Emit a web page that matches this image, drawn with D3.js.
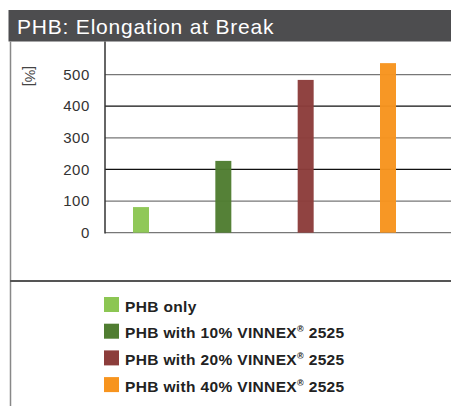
<!DOCTYPE html>
<html lang="en">

<head>
    <meta charset="UTF-8">
    <title>PHB: Elongation at Break</title>
    <script src="https://cdn.jsdelivr.net/npm/d3@7/dist/d3.min.js"></script>
    <style>
        body {
            margin: 0;
            background: #fff;
        }

        text {
            font-family: "Liberation Sans", Arial, Helvetica, sans-serif;
        }
    </style>
</head>

<body>
    <div id="container"></div>
</body>

</html>
<script>
    // data
    const categories = ['PHB only', 'PHB with 10% VINNEX', 'PHB with 20% VINNEX', 'PHB with 40% VINNEX']
    const regMark = ['', '®', '®', '®']
    const suffix = ['', ' 2525', ' 2525', ' 2525']
    const values = [81, 227, 483, 536]
    const colors = ['#8cc653', '#507d31', '#8c3d3b', '#f7941e']
    const yTicks = [0, 100, 200, 300, 400, 500]

    const width = 451,
        height = 406

    const svg = d3.select('#container').append('svg').attr('width', width).attr('height', height)

    // title bar
    svg.append('rect').attr('x', 8.5).attr('y', 10).attr('width', width - 8.5).attr('height', 31.5).attr('fill', '#4d4d4f')
    svg.append('text').attr('x', 17).attr('y', 33.5).attr('fill', '#fff').attr('font-size', 21)
        .attr('letter-spacing', 0.8).text('PHB: Elongation at Break')

    // frame lines
    svg.append('line').attr('x1', 10.5).attr('x2', 10.5).attr('y1', 41.5).attr('y2', height).attr('stroke', '#888').attr('stroke-width', 1.5)
    svg.append('line').attr('x1', 10).attr('x2', width).attr('y1', 281).attr('y2', 281).attr('stroke', '#555').attr('stroke-width', 2)

    // scales
    const axisX = 105
    const y = d3.scaleLinear().domain([0, 600]).range([232.7, 42.9])
    const x = d3.scalePoint().domain(categories).range([141, 388])
    const barW = 16

    const g = svg.append('g')

    // gridlines, alternating grey / black like the original
    g.selectAll('.grid').data(yTicks).enter().append('line')
        .attr('x1', axisX).attr('x2', width)
        .attr('y1', d => y(d)).attr('y2', d => y(d))
        .attr('stroke', (d, i) => (d === 0 || i % 2 === 1) ? '#777' : '#111')
        .attr('stroke-width', 1.3)

    // bars
    g.selectAll('.bar').data(values).enter().append('rect')
        .attr('x', (d, i) => x(categories[i]) - barW / 2)
        .attr('y', d => y(d))
        .attr('width', barW)
        .attr('height', d => y(0) - y(d))
        .attr('fill', (d, i) => colors[i])
        .attr('opacity', 0.97)

    // y axis
    const yAxis = d3.axisLeft(y).tickValues(yTicks).tickSize(0).tickPadding(15)
    const ax = svg.append('g').attr('transform', `translate(${axisX},0)`).call(yAxis)
    ax.select('.domain').remove()
    ax.selectAll('text').attr('font-size', 15).attr('letter-spacing', 0.6).attr('fill', '#333')
        .attr('font-family', '"Liberation Sans", Arial, sans-serif')
    svg.append('line').attr('x1', axisX).attr('x2', axisX).attr('y1', 41.5).attr('y2', y(0) + 0.7).attr('stroke', '#333').attr('stroke-width', 1.5)

    // unit label
    svg.append('text').attr('transform', 'translate(25,76) rotate(90)')
        .attr('text-anchor', 'middle').attr('font-size', 14).attr('fill', '#444').text('[%]')

    // legend
    const legend = svg.append('g').selectAll('g').data(categories).enter().append('g')
        .attr('transform', (d, i) => `translate(104,${297 + i * 26.7})`)
    legend.append('rect').attr('width', 15).attr('height', 15).attr('fill', (d, i) => colors[i])
    legend.each(function (d, i) {
        const t = d3.select(this).append('text').attr('x', 21).attr('y', 14.5).attr('font-size', 15.5)
            .attr('font-weight', 'bold').attr('fill', '#222').attr('letter-spacing', 0.35)
        t.append('tspan').text(d)
        if (regMark[i]) {
            t.append('tspan').attr('font-size', 9).attr('dy', -6).text(regMark[i])
            t.append('tspan').attr('dy', 6).text(suffix[i])
        }
    })
</script>
